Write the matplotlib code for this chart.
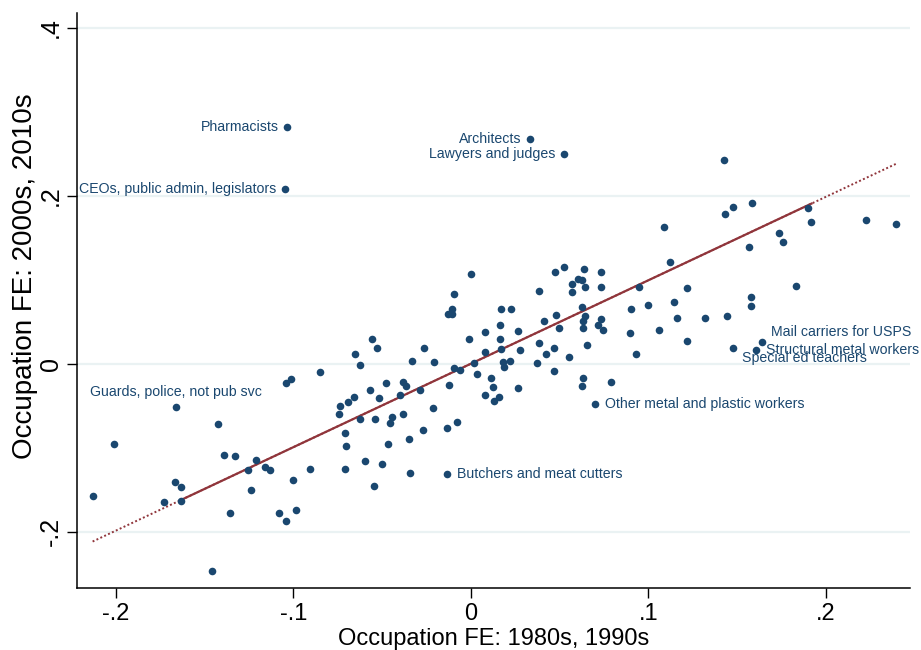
import matplotlib
matplotlib.use('Agg')
import matplotlib.pyplot as plt
import numpy as np

#=====================================================
# data

# unlabelled occupations: FE 1980s/1990s (x) vs FE 2000s/2010s (y)
occ_x = [
    -0.2012, -0.2132, -0.1424, -0.1393, -0.1331, -0.1210, -0.1255, -0.1162, -0.1130, -0.1666,
    -0.1636, -0.1730, -0.1636, -0.1238, -0.1360, -0.1079, -0.1459, -0.1042, -0.0988, -0.1001,
    -0.0907, -0.0711, -0.0599, -0.0501, -0.0548, -0.0343, -0.0704, -0.0711, -0.0467, -0.0347,
    -0.0268, -0.0135, -0.0078, -0.0212, -0.0122, -0.0285, -0.0557, -0.0528, -0.0653, -0.0625,
    -0.0849, -0.1042, -0.1014, -0.0263, -0.0332, -0.0206, -0.0098, -0.0059, -0.0009, -0.0479,
    -0.0381, -0.0366, -0.0567, -0.0518, -0.0657, -0.0694, -0.0740, -0.0744, -0.0625, -0.0542,
    -0.0443, -0.0456, -0.0383, -0.0401, 0.0003, -0.0094, -0.0108, -0.0129, -0.0105, 0.0476,
    0.0523, 0.0636, 0.0735, 0.0602, 0.0625, 0.0568, 0.0643, 0.0735, 0.0570, 0.0386,
    0.0948, 0.0170, 0.0224, 0.0625, 0.0481, 0.0643, 0.0634, 0.0632, 0.0414, 0.0498,
    0.0735, 0.0718, 0.0743, 0.0901, 0.0895, 0.0928, 0.0164, 0.0079, 0.0266, 0.0162,
    0.0079, 0.0168, 0.0278, 0.0386, 0.0422, 0.0470, 0.0654, 0.0551, 0.0371, 0.0181,
    0.0185, 0.0220, 0.0016, 0.0033, 0.0115, 0.0126, 0.0078, 0.0158, 0.0130, 0.0266,
    0.0470, 0.0630, 0.0625, 0.0791, 0.1428, 0.1477, 0.1586, 0.1431, 0.1090, 0.1122,
    0.1738, 0.1761, 0.1566, 0.1902, 0.1917, 0.1833, 0.1218, 0.1000, 0.1142, 0.1577,
    0.1577, 0.1162, 0.1320, 0.1444, 0.1062, 0.1220, 0.2227, 0.2398,
]
occ_y = [
    -0.0960, -0.1575, -0.0721, -0.1087, -0.1095, -0.1150, -0.1265, -0.1230, -0.1263, -0.1408,
    -0.1468, -0.1650, -0.1635, -0.1504, -0.1781, -0.1781, -0.2471, -0.1873, -0.1738, -0.1385,
    -0.1254, -0.1254, -0.1155, -0.1190, -0.1456, -0.1305, -0.0980, -0.0821, -0.0956, -0.0900,
    -0.0786, -0.0765, -0.0694, -0.0531, -0.0254, -0.0313, 0.0294, 0.0190, 0.0112, -0.0015,
    -0.0099, -0.0226, -0.0182, 0.0183, 0.0032, 0.0026, -0.0051, -0.0069, 0.0294, -0.0230,
    -0.0221, -0.0265, -0.0313, -0.0408, -0.0396, -0.0456, -0.0507, -0.0602, -0.0662, -0.0655,
    -0.0635, -0.0702, -0.0602, -0.0376, 0.1071, 0.0833, 0.0651, 0.0589, 0.0595, 0.1092,
    0.1151, 0.1127, 0.1088, 0.1012, 0.1000, 0.0949, 0.0913, 0.0913, 0.0854, 0.0869,
    0.0910, 0.0651, 0.0648, 0.0675, 0.0580, 0.0571, 0.0505, 0.0429, 0.0505, 0.0425,
    0.0532, 0.0464, 0.0401, 0.0648, 0.0365, 0.0121, 0.0464, 0.0377, 0.0393, 0.0290,
    0.0143, 0.0171, 0.0163, 0.0243, 0.0119, 0.0187, 0.0219, 0.0076, 0.0012, 0.0017,
    -0.0039, 0.0032, 0.0005, -0.0119, -0.0170, -0.0281, -0.0373, -0.0393, -0.0440, -0.0289,
    -0.0083, -0.0170, -0.0271, -0.0212, 0.2425, 0.1869, 0.1910, 0.1782, 0.1624, 0.1207,
    0.1556, 0.1449, 0.1389, 0.1854, 0.1687, 0.0929, 0.0901, 0.0699, 0.0729, 0.0794,
    0.0687, 0.0544, 0.0540, 0.0568, 0.0405, 0.0270, 0.1714, 0.1660,
]

# labelled occupations
label_names = [
    'Pharmacists', 'CEOs, public admin, legislators', 'Architects', 'Lawyers and judges',
    'Guards, police, not pub svc', 'Butchers and meat cutters', 'Other metal and plastic workers',
    'Mail carriers for USPS', 'Structural metal workers', 'Special ed teachers',
]
label_x = [-0.1037, -0.1048, 0.0333, 0.0525, -0.1661, -0.0135, 0.0702, 0.1641, 0.1607, 0.1479]
label_y = [0.2818, 0.2076, 0.2675, 0.2493, -0.0515, -0.1317, -0.0480, 0.0258, 0.0163, 0.0190]

# fitted line as drawn in the reference (slope, intercept, solid segment span)
fit_slope = 0.993
fit_intercept = 0.0
fit_solid_span = [-0.164, 0.192]

x_ticks = [-0.2, -0.1, 0, 0.1, 0.2]
x_tick_labels = ['-.2', '-.1', '0', '.1', '.2']
y_ticks = [-0.2, 0, 0.2, 0.4]
y_tick_labels = ['-.2', '0', '.2', '.4']

#=====================================================

NAVY = '#1a476f'
MAROON = '#90353b'
GRID = '#eaf2f3'
FONT = ['Liberation Sans', 'DejaVu Sans']

# label placement (offset in pixels, alignment)
label_pos = {
    'Pharmacists': (-8, 0, 'right'),
    'CEOs, public admin, legislators': (-9, 0, 'right'),
    'Architects': (-9, 0, 'right'),
    'Lawyers and judges': (-9, 0, 'right'),
    'Guards, police, not pub svc': (0, 15, 'center'),
    'Butchers and meat cutters': (10, 0, 'left'),
    'Other metal and plastic workers': (10, 0, 'left'),
    'Mail carriers for USPS': (9, 10, 'left'),
    'Structural metal workers': (10, 0, 'left'),
    'Special ed teachers': (9, -10, 'left'),
}

#-----------------------------------------------------

def main():

    plt.rcParams['font.family'] = FONT

    all_x = np.array(occ_x + label_x)
    all_y = np.array(occ_y + label_y)

    fig = plt.figure(figsize=(9.21, 6.5), dpi=100)
    ax = fig.add_axes([0.0836, 0.0954, 0.9045, 0.8846])

    # horizontal grid
    for yt in y_ticks:
        ax.axhline(yt, color=GRID, lw=1.6, zorder=0)

    # fitted line: dotted over the full data range, solid over the middle
    xf = np.array([all_x.min(), all_x.max()])
    ax.plot(xf, fit_intercept + fit_slope * xf, color=MAROON, lw=1.4,
            linestyle=(0, (1, 1.2)), zorder=2)
    xs = np.array(fit_solid_span)
    ax.plot(xs, fit_intercept + fit_slope * xs, color=MAROON, lw=1.6, zorder=2)

    ax.scatter(all_x, all_y, s=30, color=NAVY, linewidths=0, zorder=3)

    for name, lx, ly in zip(label_names, label_x, label_y):
        dx, dy, ha = label_pos[name]
        ax.annotate(name, (lx, ly), xytext=(dx * 0.72, dy * 0.72),
                    textcoords='offset points', ha=ha, va='center',
                    fontsize=10.2, color=NAVY, zorder=4)

    ax.set_xlim(-0.222, 0.2475)
    ax.set_ylim(-0.267, 0.4175)

    ax.set_xticks(x_ticks)
    ax.set_xticklabels(x_tick_labels)
    ax.set_yticks(y_ticks)
    ax.set_yticklabels(y_tick_labels, rotation=90, va='center')
    ax.tick_params(axis='both', direction='out', length=7, width=1, color='black')
    ax.tick_params(axis='x', labelsize=17, pad=4)
    ax.tick_params(axis='y', labelsize=18, pad=3)

    ax.spines['top'].set_visible(False)
    ax.spines['right'].set_visible(False)
    for s in ['left', 'bottom']:
        ax.spines[s].set_linewidth(1.1)

    ax.set_xlabel('Occupation FE: 1980s, 1990s', fontsize=17, labelpad=2)
    ax.set_ylabel('Occupation FE: 2000s, 2010s', fontsize=20)
    ax.yaxis.set_label_coords(-0.047, 0.543)

    fig.savefig('out.png', dpi=100)

    return

#=====================================================

if __name__ == '__main__':
    main()
